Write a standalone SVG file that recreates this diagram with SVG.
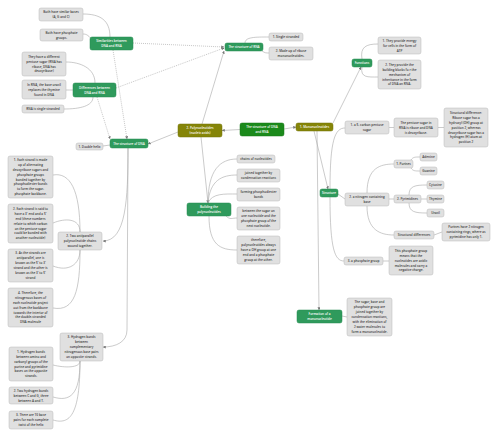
<svg xmlns="http://www.w3.org/2000/svg" width="500" height="438" viewBox="0 0 500 438">
<style>
.g{fill:#e0e0e0;stroke:#b8b8b8;stroke-width:0.5}
.gn{fill:#2f9a5c;stroke:#268a50;stroke-width:0.5}
.dg{fill:#1b8a1b;stroke:#157515;stroke-width:0.5}
.ol{fill:#858508;stroke:#707005;stroke-width:0.5}
text{font-family:"Open Sans","Liberation Sans",sans-serif;font-size:3.1px;font-weight:600;text-anchor:middle}
.t{fill:#3a3a3a}
.w{fill:#ffffff}
.c{fill:none;stroke:#a8a8a8;stroke-width:0.6}
.d{fill:none;stroke:#a0a0a0;stroke-width:0.6;stroke-dasharray:1 1}
</style>
<defs>
<marker id="ar" viewBox="0 0 6 6" refX="5.5" refY="3" markerWidth="3" markerHeight="3" markerUnits="userSpaceOnUse" orient="auto">
<path d="M0,0 L6,3 L0,6 Z" fill="#777"/>
</marker>
</defs>
<g id="connectors">
<path class="c" d="M240,129.5 L222,130.5" marker-end="url(#ar)"/>
<path class="c" d="M284,129 L296,127" marker-end="url(#ar)"/>
<path class="c" d="M178,132 L148,144" marker-end="url(#ar)"/>
<path class="c" d="M202,124 L224,51" marker-end="url(#ar)"/>
<path class="c" d="M201,137 L208,203" marker-end="url(#ar)"/>
<path class="c" d="M333,123 L361,67" marker-end="url(#ar)"/>
<path class="c" d="M314,131 L328,189" marker-end="url(#ar)"/>
<path class="c" d="M317,131 L319,310" marker-end="url(#ar)"/>
<path class="c" d="M110,37 C110,20 100,14 83,14"/>
<path class="c" d="M92,40 C89,36 87,34 83,34"/>
<path class="c" d="M95,83 C95,68 80,62 66,62"/>
<path class="c" d="M73,90 C70,90 69,90 66,90"/>
<path class="c" d="M93,97 C93,106 80,109 64,109"/>
<path class="d" d="M133,43 L224,47" marker-end="url(#ar)"/>
<path class="d" d="M116,88 L224,48" marker-end="url(#ar)"/>
<path class="d" d="M113,50 L127,139" marker-end="url(#ar)"/>
<path class="d" d="M97,97 L110,139" marker-end="url(#ar)"/>
<path class="c" d="M110,145 L103,146"/>
<path class="c" d="M128,148 C128,200 126,241 103,241" marker-end="url(#ar)"/>
<path class="c" d="M128,148 L127,330 C127,342 116,347 103,347" marker-end="url(#ar)"/>
<path class="c" d="M80,232 C80,190 70,172 53,175"/>
<path class="c" d="M80,232 C80,218 65,218 53,223"/>
<path class="c" d="M80,250 C80,265 68,272 53,266"/>
<path class="c" d="M80,250 C80,290 75,312 53,308"/>
<path class="c" d="M80,361 C80,368 65,368 53,365"/>
<path class="c" d="M80,361 C80,395 70,402 53,397"/>
<path class="c" d="M80,361 C80,415 70,425 53,420"/>
<path class="c" d="M208,203 C208,170 220,159 237,159"/>
<path class="c" d="M208,203 C210,180 222,175 237,175"/>
<path class="c" d="M208,203 C212,193 225,194 237,194"/>
<path class="c" d="M226,216 C230,220 232,218 237,218"/>
<path class="c" d="M209,216 C209,245 220,250 237,250"/>
<path class="c" d="M330,189 C330,140 335,128 345,128"/>
<path class="c" d="M338,194 L345,199"/>
<path class="c" d="M330,197 C330,250 335,261 344,261"/>
<path class="c" d="M389,127.5 L394,127.5"/>
<path class="c" d="M438,127.5 L444,127.5"/>
<path class="c" d="M367,193 C367,168 380,164 394,164"/>
<path class="c" d="M389,199 L394,199"/>
<path class="c" d="M367,206 C367,230 380,235 394,235"/>
<path class="c" d="M411,160 C413,157 415,157 420,157"/>
<path class="c" d="M411,168 C413,171 415,171 420,171"/>
<path class="c" d="M409,195 C409,186 415,185 427,185"/>
<path class="c" d="M421,199 L427,199"/>
<path class="c" d="M409,203 C409,212 415,213 427,213"/>
<path class="c" d="M434,235 L442,232"/>
<path class="c" d="M383,261 L389,261"/>
<path class="c" d="M342,316 L347,317"/>
<path class="c" d="M245,43 C245,37 255,37 269,37"/>
<path class="c" d="M262,51 C265,53 266,53 269,53"/>
<path class="c" d="M362,59 C360,47 366,44 378,44"/>
<path class="c" d="M362,67 C360,78 368,77 378,77"/>
</g>
<g id="n-b1"><rect class="g" x="39" y="8" width="44" height="13" rx="2"/><text class="t" x="61" y="13.15">Both have similar bases<tspan x="61" dy="4.9">(A, G and C)</tspan></text></g>
<g id="n-b2"><rect class="g" x="40" y="29" width="43" height="12" rx="2"/><text class="t" x="61.5" y="33.65">Both have phosphate<tspan x="61.5" dy="4.9">groups.</tspan></text></g>
<g id="n-sim"><rect class="gn" x="90" y="37" width="43" height="13" rx="2"/><text class="w" x="111.5" y="42.15">Similarities between<tspan x="111.5" dy="4.9">DNA and RNA</tspan></text></g>
<g id="n-d1"><rect class="g" x="22" y="52" width="44" height="24" rx="2"/><text class="t" x="44" y="57.75">They have a different<tspan x="44" dy="4.9">pentose sugar (RNA has</tspan><tspan x="44" dy="4.9">ribose, DNA has</tspan><tspan x="44" dy="4.9">deoxyribose)</tspan></text></g>
<g id="n-diff"><rect class="gn" x="73" y="83" width="43" height="14" rx="2"/><text class="w" x="94.5" y="88.65">Differences between<tspan x="94.5" dy="4.9">DNA and RNA</tspan></text></g>
<g id="n-d2"><rect class="g" x="22" y="80" width="44" height="19" rx="2"/><text class="t" x="44" y="85.7">In RNA, the base uracil<tspan x="44" dy="4.9">replaces the thymine</tspan><tspan x="44" dy="4.9">found in DNA</tspan></text></g>
<g id="n-d3"><rect class="g" x="22" y="105" width="42" height="8" rx="2"/><text class="t" x="43" y="110.1">RNA is single stranded</text></g>
<g id="n-rna"><rect class="gn" x="225" y="43" width="38" height="8" rx="2"/><text class="w" x="244" y="48.1">The structure of RNA</text></g>
<g id="n-r1"><rect class="g" x="269" y="33" width="34" height="8" rx="2"/><text class="t" x="286" y="38.1">1. Single stranded</text></g>
<g id="n-r2"><rect class="g" x="269" y="47" width="44" height="13" rx="2"/><text class="t" x="291" y="52.15">2. Made up of ribose<tspan x="291" dy="4.9">mononucleotides.</tspan></text></g>
<g id="n-fun"><rect class="gn" x="352" y="59" width="20" height="8" rx="2"/><text class="w" x="362" y="64.1">Functions</text></g>
<g id="n-f1"><rect class="g" x="378" y="37" width="43" height="17" rx="2"/><text class="t" x="399.5" y="41.7">1. They provide energy<tspan x="399.5" dy="4.9">for cells in the form of</tspan><tspan x="399.5" dy="4.9">ATP</tspan></text></g>
<g id="n-f2"><rect class="g" x="378" y="60" width="43" height="29" rx="2"/><text class="t" x="399.5" y="65.8">2. They provide the<tspan x="399.5" dy="4.9">building blocks fo r the</tspan><tspan x="399.5" dy="4.9">mechanism of</tspan><tspan x="399.5" dy="4.9">inheritance in the form</tspan><tspan x="399.5" dy="4.9">of DNA an RNA.</tspan></text></g>
<g id="n-sd"><rect class="g" x="444" y="108" width="44" height="39" rx="2"/><text class="t" x="466" y="113.9">Structural difference:<tspan x="466" dy="4.9">Ribose sugar has a</tspan><tspan x="466" dy="4.9">hydroxyl (OH) group at</tspan><tspan x="466" dy="4.9">position 2, whereas</tspan><tspan x="466" dy="4.9">deoxyribose sugar has a</tspan><tspan x="466" dy="4.9">hydrogen (H) atom at</tspan><tspan x="466" dy="4.9">position 2</tspan></text></g>
<g id="n-ps"><rect class="g" x="394" y="118" width="44" height="19" rx="2"/><text class="t" x="416" y="123.7">The pentose sugar in<tspan x="416" dy="4.9">RNA is ribose and DNA</tspan><tspan x="416" dy="4.9">is deoxyribose.</tspan></text></g>
<g id="n-s1"><rect class="g" x="345" y="121" width="44" height="13" rx="2"/><text class="t" x="367" y="126.15">1. a 5- carbon pentose<tspan x="367" dy="4.9">sugar</tspan></text></g>
<g id="n-mono"><rect class="ol" x="296" y="123" width="37" height="8" rx="2"/><text class="w" x="314.5" y="128.1">1. Mononucleotides</text></g>
<g id="n-main"><rect class="dg" x="240" y="123" width="44" height="13" rx="2"/><text class="w" x="262" y="128.15">The structure of DNA<tspan x="262" dy="4.9">and RNA</tspan></text></g>
<g id="n-poly"><rect class="ol" x="178" y="124" width="44" height="13" rx="2"/><text class="w" x="200" y="129.15">2. Polynucleotides<tspan x="200" dy="4.9">(nucleic acids)</tspan></text></g>
<g id="n-dna"><rect class="gn" x="110" y="139" width="38" height="9" rx="2"/><text class="w" x="129" y="144.6">The structure of DNA</text></g>
<g id="n-dh"><rect class="g" x="76" y="143" width="27" height="7" rx="2"/><text class="t" x="89.5" y="147.6">1. Double helix</text></g>
<g id="n-e1"><rect class="g" x="8" y="156" width="45" height="42" rx="2"/><text class="t" x="30.5" y="160.95">1. Each strand is made<tspan x="30.5" dy="4.9">up of alternating</tspan><tspan x="30.5" dy="4.9">deoxyribose sugars and</tspan><tspan x="30.5" dy="4.9">phosphate groups</tspan><tspan x="30.5" dy="4.9">bonded together by</tspan><tspan x="30.5" dy="4.9">phosphodiester bonds</tspan><tspan x="30.5" dy="4.9">to form the sugar-</tspan><tspan x="30.5" dy="4.9">phosphate backbone.</tspan></text></g>
<g id="n-e2"><rect class="g" x="8" y="204" width="45" height="39" rx="2"/><text class="t" x="30.5" y="209.9">2. Each strand is said to<tspan x="30.5" dy="4.9">have a 3' end and a 5'</tspan><tspan x="30.5" dy="4.9">end (these numbers</tspan><tspan x="30.5" dy="4.9">relate to which carbon</tspan><tspan x="30.5" dy="4.9">on the pentose sugar</tspan><tspan x="30.5" dy="4.9">could be bonded with</tspan><tspan x="30.5" dy="4.9">another nucleotide)</tspan></text></g>
<g id="n-ta"><rect class="g" x="58" y="232" width="44" height="18" rx="2"/><text class="t" x="80" y="237.2">2. Two antiparallel<tspan x="80" dy="4.9">polynucleotide chains</tspan><tspan x="80" dy="4.9">wound together.</tspan></text></g>
<g id="n-e3"><rect class="g" x="8" y="249" width="45" height="33" rx="2"/><text class="t" x="30.5" y="254.35">3. As the strands are<tspan x="30.5" dy="4.9">antiparallel, one is</tspan><tspan x="30.5" dy="4.9">known as the 5' to 3'</tspan><tspan x="30.5" dy="4.9">strand and the other is</tspan><tspan x="30.5" dy="4.9">known as the 3' to 5'</tspan><tspan x="30.5" dy="4.9">strand</tspan></text></g>
<g id="n-e4"><rect class="g" x="8" y="288" width="45" height="39" rx="2"/><text class="t" x="30.5" y="293.9">4. Therefore, the<tspan x="30.5" dy="4.9">nitrogenous bases of</tspan><tspan x="30.5" dy="4.9">each nucleotide project</tspan><tspan x="30.5" dy="4.9">out from the backbone</tspan><tspan x="30.5" dy="4.9">towards the interior of</tspan><tspan x="30.5" dy="4.9">the double-stranded</tspan><tspan x="30.5" dy="4.9">DNA molecule</tspan></text></g>
<g id="n-hb"><rect class="g" x="60" y="333" width="43" height="28" rx="2"/><text class="t" x="81.5" y="338.3">3. Hydrogen bonds<tspan x="81.5" dy="4.9">between</tspan><tspan x="81.5" dy="4.9">complementary</tspan><tspan x="81.5" dy="4.9">nitrogenous base pairs</tspan><tspan x="81.5" dy="4.9">on opposite strands.</tspan></text></g>
<g id="n-h1"><rect class="g" x="9" y="347" width="44" height="34" rx="2"/><text class="t" x="31" y="352.85">1. Hydrogen bonds<tspan x="31" dy="4.9">between amino and</tspan><tspan x="31" dy="4.9">carbonyl groups of the</tspan><tspan x="31" dy="4.9">purine and pyrimidine</tspan><tspan x="31" dy="4.9">bases on the opposite</tspan><tspan x="31" dy="4.9">strands.</tspan></text></g>
<g id="n-h2"><rect class="g" x="9" y="387" width="44" height="17" rx="2"/><text class="t" x="31" y="391.7">2. Two hydrogen bonds<tspan x="31" dy="4.9">between C and G, three</tspan><tspan x="31" dy="4.9">between A and T.</tspan></text></g>
<g id="n-h3"><rect class="g" x="9" y="411" width="44" height="18" rx="2"/><text class="t" x="31" y="416.2">3. There are 10 base<tspan x="31" dy="4.9">pairs for each complete</tspan><tspan x="31" dy="4.9">twist of the helix</tspan></text></g>
<g id="n-c1"><rect class="g" x="237" y="155" width="38" height="8" rx="2"/><text class="t" x="256" y="160.1">chains of nucleotides</text></g>
<g id="n-c2"><rect class="g" x="237" y="169" width="43" height="13" rx="2"/><text class="t" x="258.5" y="174.15">joined together by<tspan x="258.5" dy="4.9">condensation reactions</tspan></text></g>
<g id="n-c3"><rect class="g" x="237" y="188" width="43" height="13" rx="2"/><text class="t" x="258.5" y="193.15">forming phosphodiester<tspan x="258.5" dy="4.9">bonds</tspan></text></g>
<g id="n-c4"><rect class="g" x="237" y="207" width="43" height="23" rx="2"/><text class="t" x="258.5" y="212.25">between the sugar on<tspan x="258.5" dy="4.9">one nucleotide and the</tspan><tspan x="258.5" dy="4.9">phosphate group of the</tspan><tspan x="258.5" dy="4.9">next nucleotide.</tspan></text></g>
<g id="n-c5"><rect class="g" x="237" y="236" width="43" height="28" rx="2"/><text class="t" x="258.5" y="241.3">therefore,<tspan x="258.5" dy="4.9">polynucleotides always</tspan><tspan x="258.5" dy="4.9">have a OH group at one</tspan><tspan x="258.5" dy="4.9">end and a phosphate</tspan><tspan x="258.5" dy="4.9">group at the other.</tspan></text></g>
<g id="n-build"><rect class="gn" x="187" y="203" width="44" height="13" rx="2"/><text class="w" x="209" y="208.15">Building the<tspan x="209" dy="4.9">polynucleotides</tspan></text></g>
<g id="n-struct"><rect class="gn" x="320" y="189" width="18" height="8" rx="2"/><text class="w" x="329" y="194.1">Structure</text></g>
<g id="n-n"><rect class="g" x="345" y="193" width="44" height="13" rx="2"/><text class="t" x="367" y="198.15">2. a nitrogen containing<tspan x="367" dy="4.9">base</tspan></text></g>
<g id="n-pur"><rect class="g" x="394" y="160" width="19" height="8" rx="2"/><text class="t" x="403.5" y="165.1">1. Purines</text></g>
<g id="n-ade"><rect class="g" x="420" y="153" width="17" height="8" rx="2"/><text class="t" x="428.5" y="158.1">Adenine</text></g>
<g id="n-gua"><rect class="g" x="420" y="167" width="17" height="8" rx="2"/><text class="t" x="428.5" y="172.1">Guanine</text></g>
<g id="n-pyr"><rect class="g" x="394" y="195" width="27" height="8" rx="2"/><text class="t" x="407.5" y="200.1">2. Pyrimidines</text></g>
<g id="n-cyt"><rect class="g" x="427" y="181" width="17" height="8" rx="2"/><text class="t" x="435.5" y="186.1">Cytosine</text></g>
<g id="n-thy"><rect class="g" x="427" y="195" width="17" height="8" rx="2"/><text class="t" x="435.5" y="200.1">Thymine</text></g>
<g id="n-ura"><rect class="g" x="427" y="209" width="17" height="8" rx="2"/><text class="t" x="435.5" y="214.1">Uracil</text></g>
<g id="n-sds"><rect class="g" x="394" y="231" width="40" height="8" rx="2"/><text class="t" x="414" y="236.1">Structural differences</text></g>
<g id="n-ph"><rect class="g" x="442" y="223" width="48" height="18" rx="2"/><text class="t" x="466" y="228.2">Purines have 2 nitrogen<tspan x="466" dy="4.9">containing rings, where as</tspan><tspan x="466" dy="4.9">pyrimidine has only 1.</tspan></text></g>
<g id="n-p"><rect class="g" x="344" y="257" width="39" height="8" rx="2"/><text class="t" x="363.5" y="262.1">3. a phosphate group</text></g>
<g id="n-pt"><rect class="g" x="389" y="246" width="44" height="29" rx="2"/><text class="t" x="411" y="251.8">This phosphate group<tspan x="411" dy="4.9">means that the</tspan><tspan x="411" dy="4.9">nucleotides are acidic</tspan><tspan x="411" dy="4.9">molecules and carry a</tspan><tspan x="411" dy="4.9">negative charge.</tspan></text></g>
<g id="n-form"><rect class="gn" x="297" y="310" width="45" height="13" rx="2"/><text class="w" x="319.5" y="315.15">Formation of a<tspan x="319.5" dy="4.9">mononucleotide</tspan></text></g>
<g id="n-ft"><rect class="g" x="347" y="298" width="45" height="38" rx="2"/><text class="t" x="369.5" y="303.4">The sugar, base and<tspan x="369.5" dy="4.9">phosphate group are</tspan><tspan x="369.5" dy="4.9">joined together by</tspan><tspan x="369.5" dy="4.9">condensation reactions,</tspan><tspan x="369.5" dy="4.9">with the elimination of</tspan><tspan x="369.5" dy="4.9">2 water molecules to</tspan><tspan x="369.5" dy="4.9">form a mononucleotide.</tspan></text></g>
</svg>
